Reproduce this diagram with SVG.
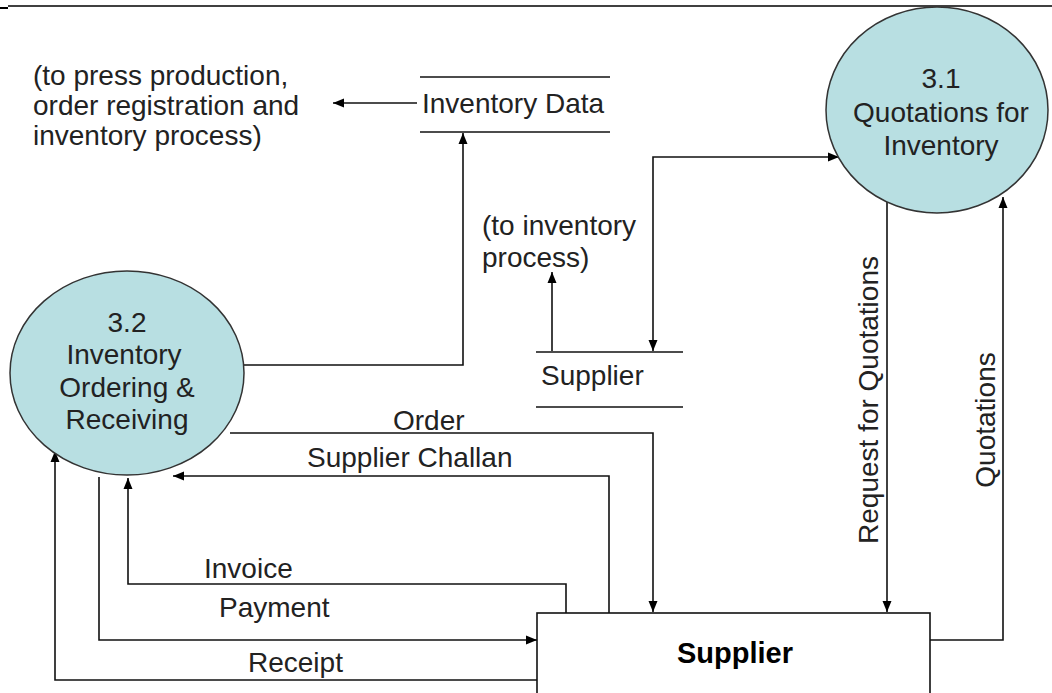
<svg xmlns="http://www.w3.org/2000/svg" width="1052" height="693" viewBox="0 0 1052 693">
<style>
text{font-family:"Liberation Sans",Arial,sans-serif;font-size:28px;fill:#222}
.c{text-anchor:middle}
.proc{fill:#b8dfe2;stroke:#333;stroke-width:1.5}
.ln{fill:none;stroke:#111;stroke-width:1.6}
.box{fill:#fff;stroke:#111;stroke-width:1.6}
.ent{font-size:29px;font-weight:bold;fill:#000}
</style>
<defs>
<marker id="ah" markerWidth="11" markerHeight="10" refX="11" refY="5" orient="auto-start-reverse" markerUnits="userSpaceOnUse">
<path d="M0,0.5 L11,5 L0,9.5 Z" fill="#000"/>
</marker>
</defs>
<rect width="1052" height="693" fill="#fff"/>
<line x1="8" y1="6" x2="1052" y2="6" stroke="#000" stroke-width="1.5"/>
<line x1="0" y1="8" x2="8" y2="8" stroke="#000" stroke-width="2"/>

<g id="connectors">
<polyline class="ln" points="417,103 333,103" marker-end="url(#ah)"/>
<polyline class="ln" points="243,365 463,365 463,133" marker-end="url(#ah)"/>
<polyline class="ln" points="653,351 653,157 839,157" marker-start="url(#ah)" marker-end="url(#ah)"/>
<polyline class="ln" points="552,351 552,272" marker-end="url(#ah)"/>
<polyline class="ln" points="887,201 887,612" marker-end="url(#ah)"/>
<polyline class="ln" points="930,640 1003,640 1003,197" marker-end="url(#ah)"/>
<polyline class="ln" points="230,433 653,433 653,612" marker-end="url(#ah)"/>
<polyline class="ln" points="609,613 609,476 173,476" marker-end="url(#ah)"/>
<polyline class="ln" points="566,613 566,584 128,584 128,478" marker-end="url(#ah)"/>
<polyline class="ln" points="99,477 99,640 537,640" marker-end="url(#ah)"/>
<polyline class="ln" points="537,680 55,680 55,451" marker-end="url(#ah)"/>
<text x="393" y="430">Order</text>
<text x="307" y="467">Supplier Challan</text>
<text x="204" y="578">Invoice</text>
<text x="219" y="617">Payment</text>
<text x="248" y="672">Receipt</text>
<text class="c" transform="translate(878,400) rotate(-90)" font-size="26.5">Request for Quotations</text>
<text class="c" transform="translate(995,420) rotate(-90)" font-size="26">Quotations</text>
</g>

<g id="note-top">
<text x="33" y="85">(to press production,</text>
<text x="33" y="115">order registration and</text>
<text x="33" y="145">inventory process)</text>
</g>

<g id="store-inventory-data">
<line class="ln" x1="420" y1="77" x2="610" y2="77"/>
<line class="ln" x1="420" y1="132" x2="610" y2="132"/>
<text x="422" y="113">Inventory Data</text>
</g>

<g id="p31">
<ellipse class="proc" cx="937" cy="110" rx="111" ry="103"/>
<text class="c" x="941" y="88">3.1</text>
<text class="c" x="941" y="122">Quotations for</text>
<text class="c" x="941" y="155">Inventory</text>
</g>

<g id="note-inv">
<text x="482" y="235">(to inventory</text>
<text x="482" y="267">process)</text>
</g>

<g id="store-supplier">
<line class="ln" x1="536" y1="352" x2="683" y2="352"/>
<line class="ln" x1="536" y1="407" x2="683" y2="407"/>
<text x="541" y="385">Supplier</text>
</g>

<g id="p32">
<ellipse class="proc" cx="127" cy="373" rx="117" ry="102"/>
<text class="c" x="127" y="332">3.2</text>
<text class="c" x="124" y="364">Inventory</text>
<text class="c" x="127" y="397">Ordering &amp;</text>
<text class="c" x="127" y="429">Receiving</text>
</g>

<g id="supplier">
<rect class="box" x="537" y="613" width="393" height="100"/>
<text class="ent c" x="735" y="663">Supplier</text>
</g>
</svg>
